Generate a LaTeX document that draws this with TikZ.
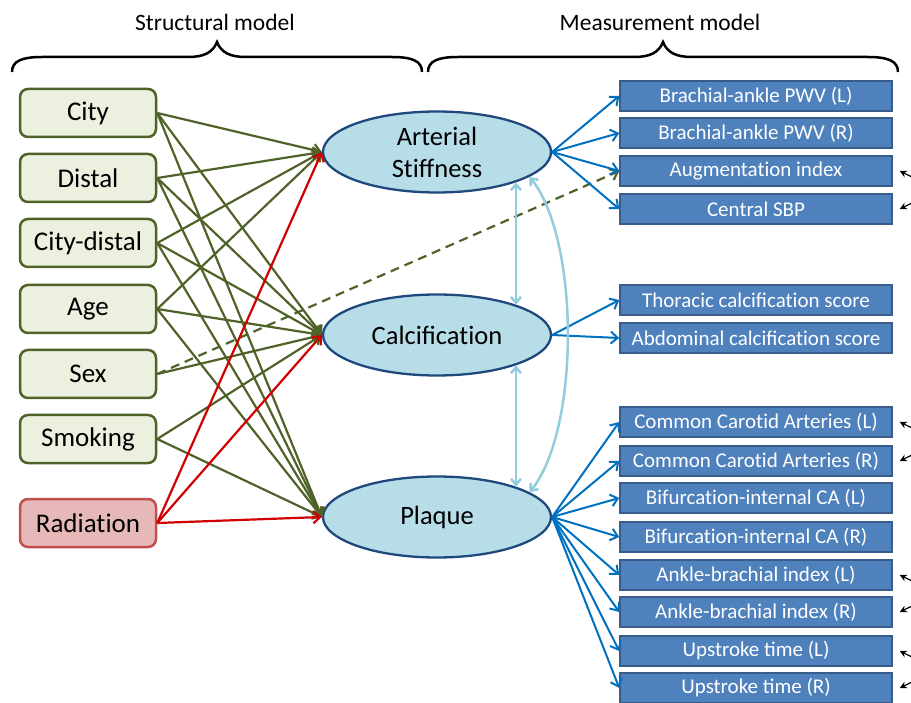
\documentclass[tikz,border=0pt]{standalone}
\usepackage{fontspec}
\setmainfont{Carlito}
\newcommand{\nti}{t\kern0pt i}
\usetikzlibrary{shapes.geometric,arrows.meta}
\definecolor{gline}{HTML}{4F6228}
\definecolor{gfill}{HTML}{EBF1DE}
\definecolor{gborder}{HTML}{4F6228}
\definecolor{rfill}{HTML}{E6B9B8}
\definecolor{rborder}{HTML}{C0504D}
\definecolor{rline}{HTML}{D00000}
\definecolor{efill}{HTML}{B7DEE8}
\definecolor{eborder}{HTML}{1F497D}
\definecolor{bfill}{HTML}{4F81BD}
\definecolor{bborder}{HTML}{385D8A}
\definecolor{bline}{HTML}{0070C0}
\definecolor{cov}{HTML}{93CDDD}
\begin{document}
\begin{tikzpicture}[x=1pt,y=-1pt,
  lbox/.style={draw=gborder,fill=gfill,line width=2.5pt,rounded corners=8pt,
    minimum width=136pt,minimum height=48pt,inner sep=0pt,font=\fontsize{27}{32}\selectfont},
  radbox/.style={lbox,draw=rborder,fill=rfill},
  latent/.style={ellipse,draw=eborder,fill=efill,line width=2.3pt,minimum width=228pt,
    minimum height=81pt,inner sep=0pt,align=center,font=\fontsize{26.5}{32}\selectfont},
  mbox/.style={rectangle,draw=bborder,fill=bfill,line width=1.5pt,minimum width=272pt,
    minimum height=30pt,inner sep=0pt,text=white,font=\fontsize{21}{24}\selectfont},
  tip/.style={-{Straight Barb[length=7pt,width=12pt]}},
  gpath/.style={tip,draw=gline,line width=2.2pt},
  rpath/.style={tip,draw=rline,line width=2.2pt},
  bpath/.style={tip,draw=bline,line width=2pt},
  cpath/.style={{Straight Barb[length=6pt,width=10pt]}-{Straight Barb[length=6pt,width=10pt]},draw=cov,line width=2.5pt},
  epath/.style={-{Stealth[length=7pt,width=7pt]},draw=black,line width=1.2pt},
  brace/.style={draw=black,line width=2.5pt},
  head/.style={font=\fontsize{23.5}{28}\selectfont}
]
\useasboundingbox (0,0) rectangle (911,703);

% headings and braces
\node[head] (hs) at (215,22) {Structural model};
\node[head] (hm) at (660,22) {Measurement model};
\draw[brace] (12,72) .. controls (12,61) and (22,57) .. (42,57) -- (188,57)
  .. controls (205,57) and (213,52) .. (217,42)
  .. controls (221,52) and (229,57) .. (246,57) -- (392,57)
  .. controls (412,57) and (422,61) .. (422,72);
\draw[brace] (428,72) .. controls (428,61) and (438,57) .. (458,57) -- (634,57)
  .. controls (651,57) and (659,52) .. (663,42)
  .. controls (667,52) and (675,57) .. (692,57) -- (868,57)
  .. controls (888,57) and (898,61) .. (898,72);

% exogenous boxes
\node[lbox] (city) at (88,113) {City};
\node[lbox] (dist) at (88,178) {Distal};
\node[lbox] (cd) at (88,243) {City-distal};
\node[lbox] (age) at (88,309) {Age};
\node[lbox] (sex) at (88,374) {Sex};
\node[lbox] (smk) at (88,439) {Smoking};
\node[radbox] (rad) at (88,523) {Radia\nti on};

% latent variables
\node[latent] (as) at (437,152) {Arterial\\S\nti ffness};
\node[latent] (cal) at (437,335) {Calcifica\nti on};
\node[latent] (pl) at (437,517) {Plaque};

% indicators
\node[mbox] (bl) at (756,96) {Brachial-ankle PWV (L)};
\node[mbox] (br) at (756,133) {Brachial-ankle PWV (R)};
\node[mbox] (aug) at (756,171) {Augmenta\nti on index};
\node[mbox] (csbp) at (756,209) {Central SBP};
\node[mbox] (thor) at (756,300) {Thoracic calcifica\nti on score};
\node[mbox] (abd) at (756,338) {Abdominal calcifica\nti on score};
\node[mbox] (ccal) at (756,422) {Common Caro\nti d Arteries (L)};
\node[mbox] (ccar) at (756,461) {Common Caro\nti d Arteries (R)};
\node[mbox] (bifl) at (756,498) {Bifurca\nti on-internal CA (L)};
\node[mbox] (bifr) at (756,537) {Bifurca\nti on-internal CA (R)};
\node[mbox] (abil) at (756,575) {Ankle-brachial index (L)};
\node[mbox] (abir) at (756,612) {Ankle-brachial index (R)};
\node[mbox] (upl) at (756,651) {Upstroke time (L)};
\node[mbox] (upr) at (756,688) {Upstroke time (R)};

% structural paths
\foreach \s in {city,dist,cd,age}{
  \draw[gpath] (\s.east) -- (as.west);
  \draw[gpath] (\s.east) -- (cal.west);
  \draw[gpath] (\s.east) -- (pl.west);
}
\draw[gpath] (sex.east) -- (cal.west);
\draw[gpath] (smk.east) -- (cal.west);
\draw[gpath] (smk.east) -- (pl.west);
\draw[gpath,dashed,dash pattern=on 9pt off 6pt] (sex.east) -- (aug.west);
\draw[rpath] (rad.east) -- (as.west);
\draw[rpath] (rad.east) -- (cal.west);
\draw[rpath] (rad.east) -- (pl.west);

% measurement paths
\foreach \m in {bl,br,aug,csbp}{\draw[bpath] (as.east) -- (\m.west);}
\foreach \m in {thor,abd}{\draw[bpath] (cal.east) -- (\m.west);}
\foreach \m in {ccal,ccar,bifl,bifr,abil,abir,upl,upr}{\draw[bpath] (pl.east) -- (\m.west);}

% covariances between latent variables
\draw[cpath] (as.-21) -- (cal.21);
\draw[cpath] (cal.-21) -- (pl.21);
\draw[cpath] (as.-15) .. controls (580,240) and (580,430) .. (pl.15);

% error covariance stubs
\coordinate (e1) at (914,178);
\coordinate (e2) at (914,202);
\coordinate (e3) at (914,429);
\coordinate (e4) at (914,454);
\coordinate (e5) at (914,582);
\coordinate (e6) at (914,605);
\coordinate (e7) at (914,658);
\coordinate (e8) at (914,681);
\draw[epath] (e1) -- ([xshift=7pt]aug.east);
\draw[epath] (e2) -- ([xshift=7pt]csbp.east);
\draw[epath] (e3) -- ([xshift=7pt]ccal.east);
\draw[epath] (e4) -- ([xshift=7pt]ccar.east);
\draw[epath] (e5) -- ([xshift=7pt]abil.east);
\draw[epath] (e6) -- ([xshift=7pt]abir.east);
\draw[epath] (e7) -- ([xshift=7pt]upl.east);
\draw[epath] (e8) -- ([xshift=7pt]upr.east);
\end{tikzpicture}
\end{document}
